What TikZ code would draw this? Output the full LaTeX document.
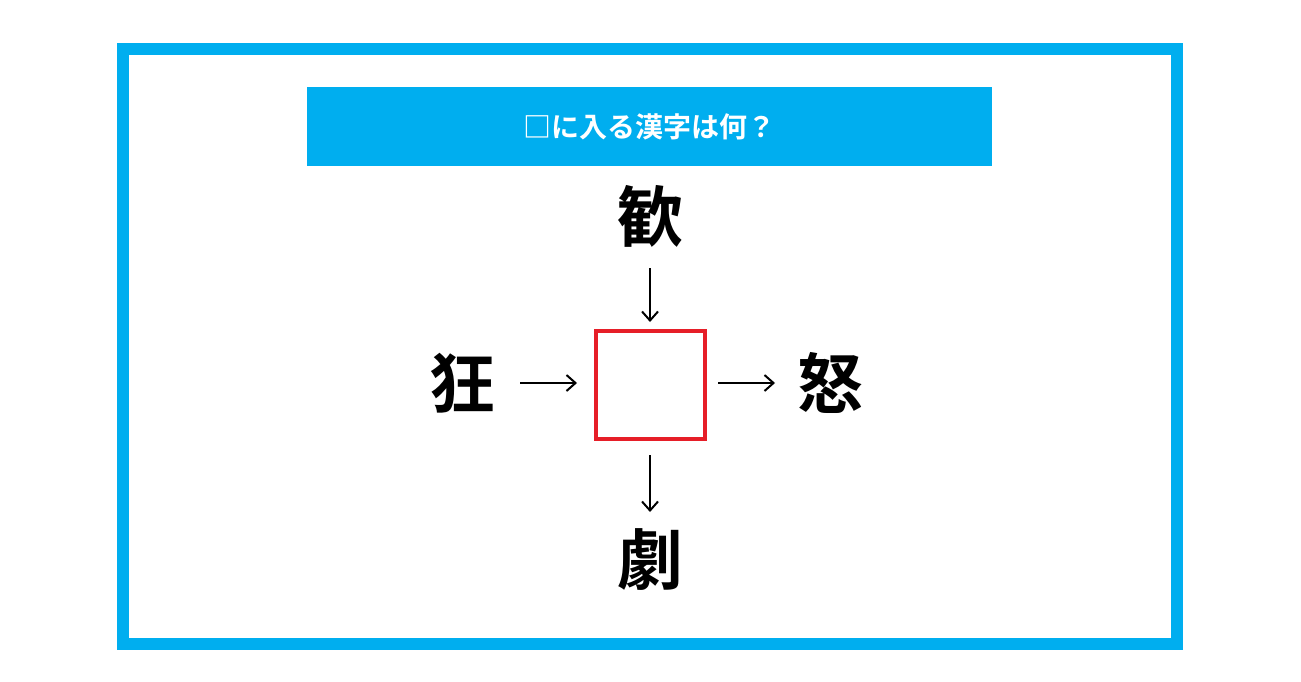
\documentclass[tikz,border=0pt]{standalone}
\usepackage{fontspec}
\newfontfamily\cjk{Noto Sans CJK JP Bold}
\usetikzlibrary{arrows.meta}
\definecolor{frameblue}{RGB}{0,174,239}
\definecolor{boxred}{RGB}{230,30,40}
\tikzset{kanji/.style={font=\cjk\fontsize{66}{66}\selectfont,inner sep=0pt},
  arr/.style={-{Straight Barb[length=9pt,width=16pt,line width=2pt]},line width=2pt}}
\begin{document}
\begin{tikzpicture}[x=1pt,y=-1pt]
\useasboundingbox (0,0) rectangle (1301,682);
\fill[white] (0,0) rectangle (1301,682);
\draw[frameblue,line width=12pt] (123,49) rectangle (1177,644);
\node[fill=frameblue,minimum width=685pt,minimum height=79pt,inner sep=0pt,
  text=white,font=\cjk\fontsize{28}{28}\selectfont] (title) at (649.5,126.5) {□に入る漢字は何？};
\node[kanji] (top) at (650,216) {歓};
\node[kanji] (left) at (462,383) {狂};
\node[kanji] (right) at (830,383) {怒};
\node[kanji] (bottom) at (650,560) {劇};
\node[draw=boxred,line width=4pt,minimum width=109pt,minimum height=108pt,inner sep=0pt] (box) at (650.5,385) {};
\coordinate (t1) at (650,268); \coordinate (t2) at (650,322);
\coordinate (l1) at (520,383); \coordinate (l2) at (577,383);
\coordinate (r1) at (718,383); \coordinate (r2) at (775,383);
\coordinate (b1) at (650,455); \coordinate (b2) at (650,512);
\draw[arr] (t1) -- (t2);
\draw[arr] (l1) -- (l2);
\draw[arr] (r1) -- (r2);
\draw[arr] (b1) -- (b2);
\end{tikzpicture}
\end{document}
